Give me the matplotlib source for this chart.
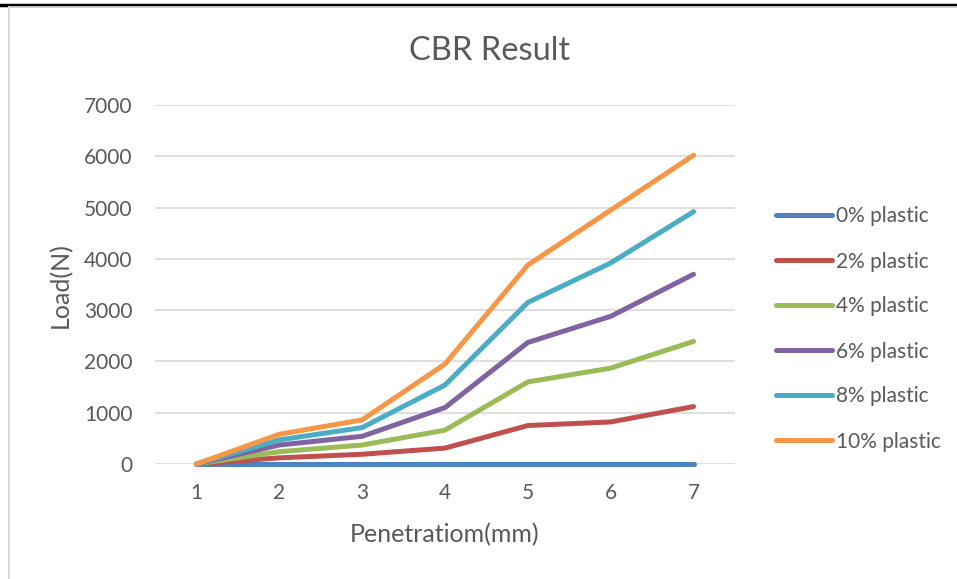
import numpy as np
import matplotlib
matplotlib.use("Agg")
import matplotlib.pyplot as plt
from matplotlib.lines import Line2D

penetration = [1, 2, 3, 4, 5, 6, 7]
series_names = ["0% plastic", "2% plastic", "4% plastic", "6% plastic", "8% plastic", "10% plastic"]
load_0 = [0, 0, 0, 0, 0, 0, 0]
load_2 = [0, 120, 190, 310, 750, 820, 1120]
load_4 = [0, 240, 370, 660, 1600, 1870, 2390]
load_6 = [0, 370, 540, 1100, 2370, 2880, 3700]
load_8 = [0, 470, 710, 1540, 3150, 3920, 4920]
load_10 = [0, 580, 860, 1950, 3880, 4950, 6020]
y_ticks = [0, 1000, 2000, 3000, 4000, 5000, 6000, 7000]

COLORS = ["#4F81BD", "#C0504D", "#9BBB59", "#8064A2", "#4BACC6", "#F79646"]
TXT = "#595959"
W, H = 957, 579

plt.rcParams.update({"font.family": ["Lato", "DejaVu Sans"], "font.size": 15})

fig = plt.figure(figsize=(W / 100, H / 100), dpi=100)
fig.patch.set_facecolor("white")

# page decorations: black rule on top, chart frame on the left
fig.add_artist(Line2D([0, 1], [1 - 4.5 / H] * 2, transform=fig.transFigure, color="black", lw=2.5))
fig.add_artist(Line2D([9 / W, 1], [1 - 7 / H] * 2, transform=fig.transFigure, color="#d9d9d9", lw=1.2))
fig.add_artist(Line2D([9 / W] * 2, [0, 1 - 7 / H], transform=fig.transFigure, color="#d9d9d9", lw=1.5))

ax = fig.add_axes([155 / W, (H - 464) / H, 580 / W, (464 - 105) / H])
for vals, name, c in zip([load_0, load_2, load_4, load_6, load_8, load_10], series_names, COLORS):
    ax.plot(penetration, vals, color=c, lw=3.6, solid_capstyle="round", solid_joinstyle="round",
            label=name, clip_on=False)

ax.set_xlim(0.5, 7.5)
ax.set_ylim(0, 7000)
ax.set_xticks(penetration)
ax.set_yticks(y_ticks)
ax.yaxis.grid(True, color="#d9d9d9", lw=1.2)
ax.set_axisbelow(True)
for s in ax.spines.values():
    s.set_visible(False)
ax.tick_params(length=0, colors=TXT, labelsize=15)
ax.tick_params(axis="y", pad=16)
ax.tick_params(axis="x", pad=14)
fig.text(445 / W, 1 - 535 / H, "Penetratiom(mm)", ha="center", va="center", color=TXT, fontsize=18)
fig.text(60 / W, 1 - 285 / H, "Load(N)", ha="center", va="center", rotation=90, color=TXT, fontsize=18)
fig.text(490 / W, 1 - 51 / H, "CBR Result", ha="center", va="center", color=TXT, fontsize=23.5)

leg = ax.legend(loc="center left", bbox_to_anchor=(768 / W, 1 - 329 / H), bbox_transform=fig.transFigure,
                frameon=False, fontsize=15, handlelength=2.65, handletextpad=0.2, labelspacing=1.2,
                borderaxespad=0)
for t in leg.get_texts():
    t.set_color(TXT)

fig.savefig("out.png", dpi=100)
